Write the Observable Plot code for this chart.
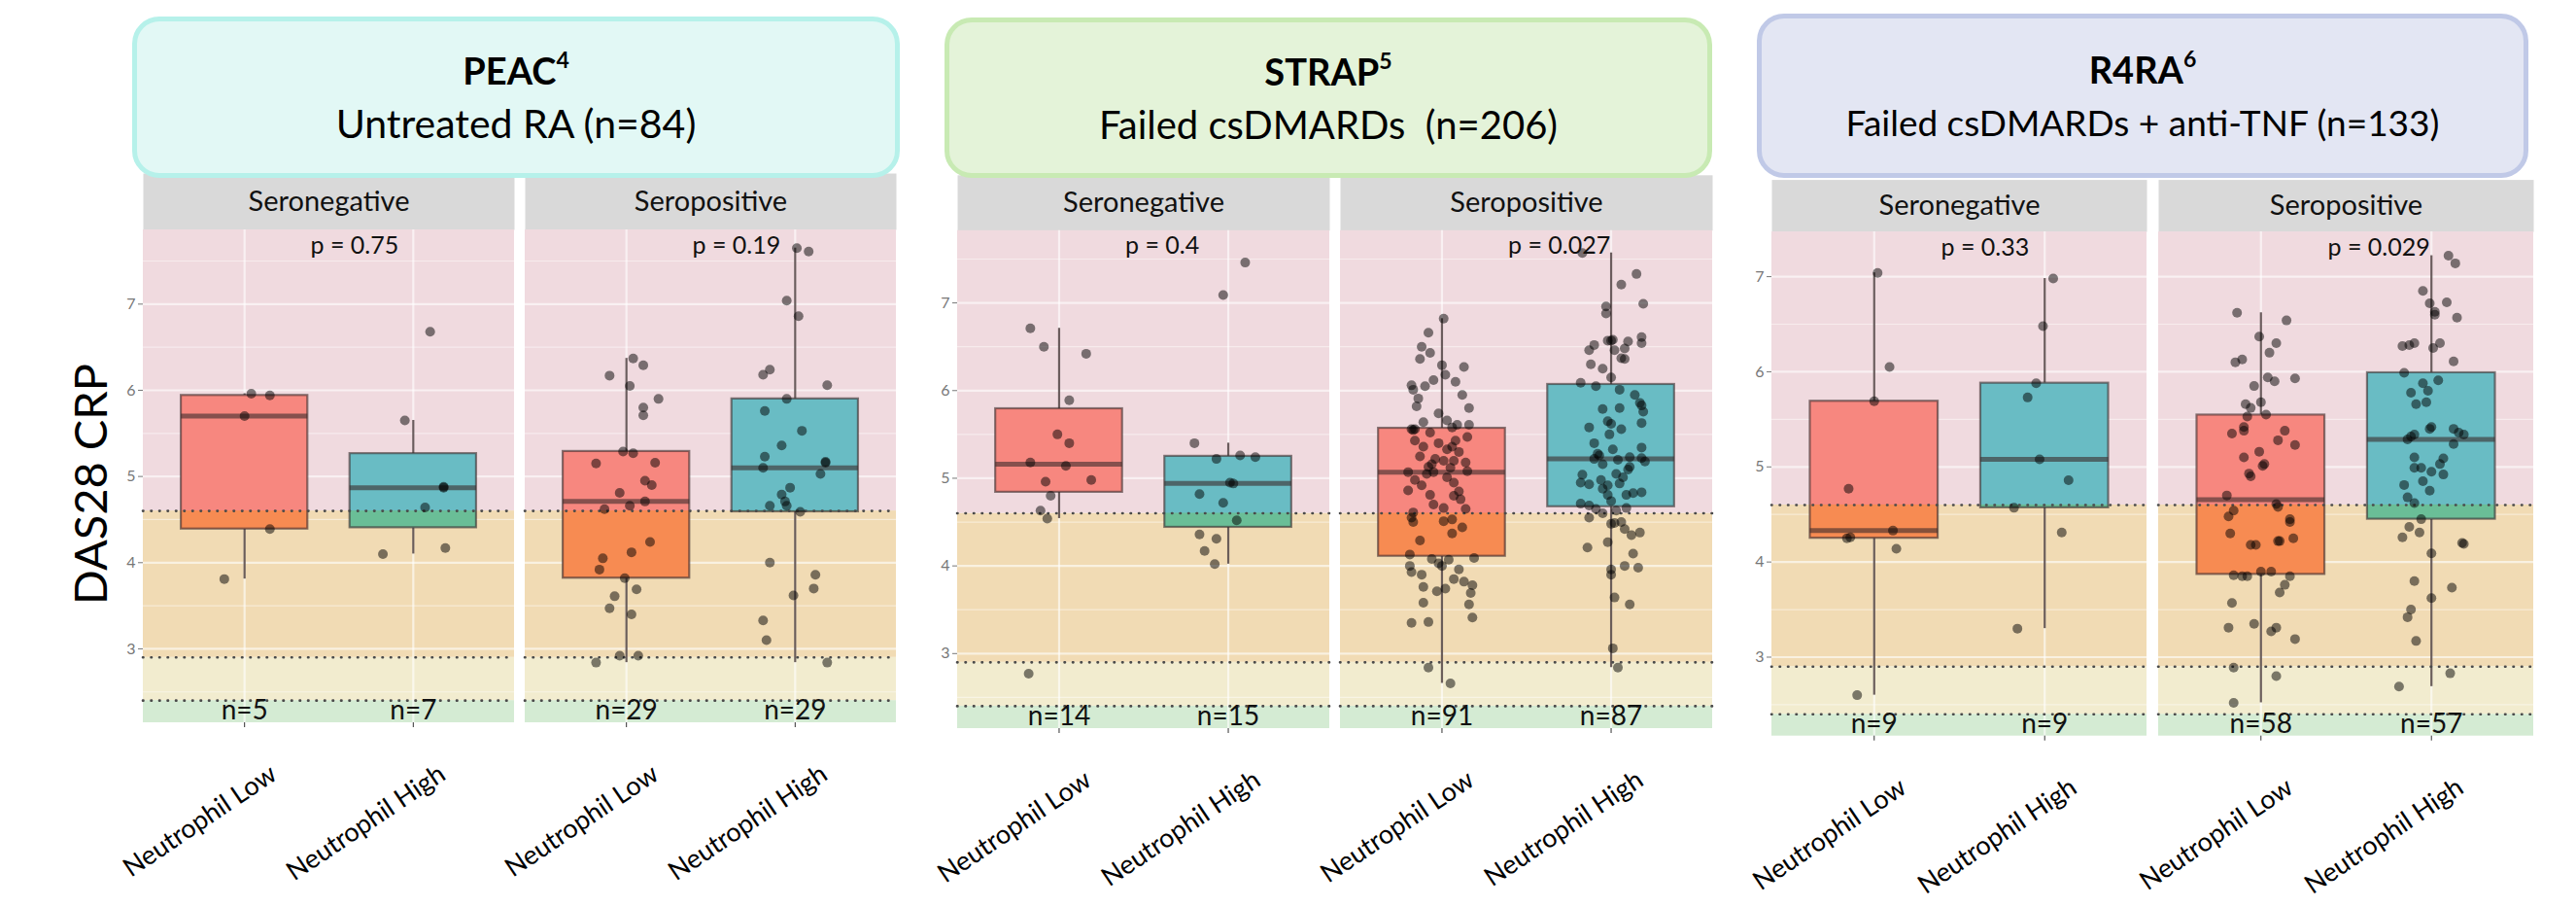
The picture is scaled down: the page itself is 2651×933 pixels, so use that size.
<!DOCTYPE html>
<html>
<head>
<meta charset="utf-8">
<script src="https://cdn.jsdelivr.net/npm/d3@7"></script>
<script src="https://cdn.jsdelivr.net/npm/@observablehq/plot@0.6"></script>
<style>
  body { margin: 0; background: #fff; }
  #page { position: relative; width: 2651px; height: 933px; overflow: hidden; background: #fff; font-family: Lato, "Noto Sans", sans-serif; }
  .hdr { position: absolute; box-sizing: border-box; border-radius: 28px; display: flex; flex-direction: column; align-items: center; justify-content: center; color: #000; z-index: 3; }
  .hdr .t { font-weight: 700; font-size: 38px; line-height: 54px; }
  .hdr .t sup { font-size: 23px; line-height: 0; position: relative; top: -3px; }
  .hdr .s { font-size: 41px; line-height: 56px; white-space: pre; }
  .ylab { position: absolute; left: 92px; top: 498px; transform: translate(-50%, -50%) rotate(-90deg); font-size: 47px; white-space: nowrap; color: #000; z-index: 2; }
  .chart { position: absolute; left: 0; top: 170px; z-index: 1; }
</style>
</head>
<body>
<div id="page">
  <div class="hdr" style="left:136px;top:17px;width:790px;height:166px;background:#E2F8F5;border:5px solid #B6F1EA;">
    <div class="t">PEAC<sup>4</sup></div><div class="s">Untreated RA (n=84)</div>
  </div>
  <div class="hdr" style="left:972px;top:18px;width:790px;height:165px;background:#E4F3D9;border:5px solid #C8EAB3;">
    <div class="t">STRAP<sup>5</sup></div><div class="s" style="font-size:40px">Failed csDMARDs  (n=206)</div>
  </div>
  <div class="hdr" style="left:1808px;top:14px;width:794px;height:169px;background:#E3E6F3;border:5px solid #C0C9E7;">
    <div class="t">R4RA<sup>6</sup></div><div class="s" style="font-size:37px">Failed csDMARDs + anti-TNF (n=133)</div>
  </div>
  <div class="ylab">DAS28 CRP</div>
</div>
<script>
// ---------- categories, facets, ticks ----------
const categories = ["Neutrophil Low", "Neutrophil High"];
const facets = ["Seronegative", "Seropositive"];
const cutoffs = [2.4, 2.9, 4.6];           // DAS28-CRP remission / low / high activity cut-offs
const yTicks = [3, 4, 5, 6, 7];
const yMinorTicks = [2.5, 3.5, 4.5, 5.5, 6.5, 7.5];

// ---------- p-values ----------
const peacP = ["p = 0.75", "p = 0.19"];
const strapP = ["p = 0.4", "p = 0.027"];
const r4raP = ["p = 0.33", "p = 0.029"];

// ---------- PEAC (DAS28 CRP values and horizontal jitter) ----------
const peacNegLow  = [5.96, 5.94, 5.70, 4.39, 3.81];
const peacNegLowJ = [0.04, 0.15, 0.00, 0.15, -0.12];
const peacNegHigh  = [6.68, 5.65, 4.88, 4.87, 4.64, 4.17, 4.10];
const peacNegHighJ = [0.10, -0.05, 0.18, 0.18, 0.07, 0.19, -0.18];
const peacPosLow  = [6.37, 6.29, 6.17, 6.05, 5.90, 5.80, 5.71, 5.27, 5.15, 5.16, 4.95, 4.90, 4.81, 4.71, 4.66, 4.62, 4.24, 4.12, 4.05, 3.92, 3.82, 3.69, 3.61, 3.47, 3.40, 2.92, 2.92, 2.84, 5.29];
const peacPosLowJ = [0.04, 0.10, -0.10, 0.02, 0.19, 0.10, 0.10, 0.04, -0.18, 0.17, 0.11, 0.15, -0.04, 0.11, 0.02, -0.13, 0.14, 0.03, -0.14, -0.16, -0.01, 0.06, -0.07, -0.10, 0.03, -0.04, 0.07, -0.18, -0.02];
const peacPosHigh  = [7.65, 7.61, 7.04, 6.86, 6.18, 6.24, 6.06, 5.90, 5.76, 5.53, 5.36, 5.23, 5.17, 5.16, 5.10, 5.03, 4.87, 4.79, 4.71, 4.66, 4.66, 4.59, 4.00, 3.86, 3.70, 3.62, 3.33, 3.10, 2.84];
const peacPosHighJ = [0.01, 0.08, -0.05, 0.02, -0.19, -0.15, 0.19, -0.05, -0.18, 0.04, -0.08, -0.18, 0.18, 0.18, -0.19, 0.15, -0.03, -0.08, -0.06, -0.05, -0.15, 0.03, -0.15, 0.12, 0.11, -0.01, -0.19, -0.17, 0.19];

// ---------- STRAP ----------
const strapNegLow  = [6.71, 6.50, 6.42, 5.89, 5.50, 5.40, 5.18, 5.14, 4.96, 4.98, 4.80, 4.63, 4.54, 2.77];
const strapNegLowJ = [-0.17, -0.09, 0.16, 0.06, -0.01, 0.06, -0.17, 0.04, -0.08, 0.19, -0.05, -0.11, -0.07, -0.18];
const strapNegHigh  = [7.46, 7.09, 5.40, 5.22, 5.26, 5.24, 4.95, 4.82, 4.72, 4.36, 4.31, 4.17, 4.02, 4.94, 4.52];
const strapNegHighJ = [0.10, -0.03, -0.20, -0.07, 0.07, 0.16, 0.01, -0.17, -0.03, -0.17, -0.07, -0.14, -0.08, 0.03, 0.05];
const strapPosLow = [
  6.82, 6.66, 6.50, 6.43, 6.36, 6.29, 6.27, 6.12, 6.05, 6.10,
  6.06, 6.01, 5.91, 5.82, 5.80, 5.64, 5.56, 5.56, 5.55, 5.58,
  5.61, 5.61, 5.43, 5.43, 5.36, 5.36, 5.22, 5.16, 5.20, 5.20,
  5.18, 5.13, 5.07, 5.05, 5.07, 5.08, 4.98, 5.01, 4.95, 4.86,
  4.81, 4.80, 4.76, 4.66, 4.65, 4.61, 4.55, 4.50, 4.51, 4.53,
  4.37, 4.29, 4.13, 4.08, 4.07, 4.09, 4.00, 3.93, 4.00, 3.85,
  3.82, 3.76, 3.74, 3.71, 3.78, 3.69, 3.58, 3.56, 3.41, 3.35,
  3.36, 2.84, 2.66,
  4.03, 3.96, 3.90, 5.66, 5.74, 5.95, 6.18, 4.70, 4.85, 4.92,
  4.44, 5.12, 5.25, 5.30, 5.40, 5.47, 5.52, 5.33];
const strapPosLowJ = [
  0.01, -0.08, -0.12, -0.07, -0.13, 0.00, 0.13, -0.05, -0.10, 0.08,
  -0.18, -0.17, -0.14, -0.15, 0.16, -0.11, -0.18, -0.16, -0.17, 0.06,
  0.09, 0.16, -0.16, 0.08, -0.11, 0.06, -0.04, -0.06, 0.01, 0.07,
  0.14, -0.08, -0.20, -0.09, -0.05, 0.15, -0.16, 0.03, 0.07, -0.20,
  -0.07, 0.07, 0.11, 0.01, 0.14, -0.17, -0.18, -0.17, 0.01, 0.06,
  0.06, -0.13, -0.19, -0.06, 0.04, 0.19, -0.19, -0.18, 0.00, 0.07,
  0.13, -0.11, 0.02, -0.03, 0.18, 0.17, -0.11, 0.16, 0.18, -0.18,
  -0.08, -0.08, 0.05,
  -0.02, 0.10, -0.12, 0.03, -0.02, 0.12, 0.02, -0.05, 0.10, -0.12,
  0.12, 0.05, -0.13, 0.10, -0.02, 0.15, -0.07, 0.03];
const strapPosHigh = [
  7.57, 7.33, 7.21, 6.99, 6.96, 6.88, 6.57, 6.57, 6.58, 6.52,
  6.56, 6.46, 6.61, 6.54, 6.46, 6.48, 6.37, 6.36, 6.25, 6.09,
  6.05, 6.01, 5.95, 5.86, 5.83, 5.76, 5.79, 5.80, 5.65, 5.62,
  5.58, 5.56, 5.63, 5.50, 5.33, 5.35, 5.28, 5.26, 5.22, 5.24,
  5.23, 5.19, 5.16, 5.13, 5.04, 5.01, 4.95, 4.93, 4.98, 4.92,
  4.94, 4.81, 4.83, 4.84, 4.81, 4.74, 4.71, 4.69, 4.65, 4.63,
  4.66, 4.55, 4.48, 4.50, 4.49, 4.35, 4.38, 4.21, 4.14, 4.00,
  3.98, 3.96, 3.90, 3.64, 3.56, 3.06, 2.84,
  6.15, 6.30, 4.60, 4.42, 4.27, 5.10, 4.88, 5.05, 5.21, 5.40];
const strapPosHighJ = [
  -0.17, 0.15, 0.06, 0.19, -0.03, -0.03, -0.02, 0.00, 0.01, -0.10,
  0.10, -0.13, 0.18, 0.18, 0.02, 0.08, 0.06, 0.08, -0.05, -0.18,
  -0.09, 0.05, 0.14, 0.17, 0.18, 0.19, -0.05, 0.05, -0.02, 0.00,
  -0.13, 0.06, 0.18, -0.01, 0.01, 0.18, -0.08, -0.07, -0.10, 0.11,
  0.18, 0.20, -0.05, 0.11, -0.17, 0.07, -0.18, -0.13, -0.06, -0.02,
  0.05, 0.09, 0.13, 0.18, -0.02, 0.00, -0.18, -0.13, -0.09, 0.03,
  0.09, -0.13, 0.00, 0.06, 0.02, 0.12, 0.17, -0.14, 0.13, 0.08,
  0.16, 0.00, 0.00, 0.02, 0.11, 0.01, 0.04,
  0.00, -0.12, -0.05, 0.08, -0.02, 0.10, -0.05, 0.03, 0.04, -0.10];

// ---------- R4RA ----------
const r4raNegLow  = [7.04, 6.05, 5.69, 4.77, 4.33, 4.25, 4.26, 4.14, 2.60];
const r4raNegLowJ = [0.02, 0.09, 0.00, -0.15, 0.11, -0.16, -0.14, 0.13, -0.10];
const r4raNegHigh  = [6.98, 6.48, 5.88, 5.73, 5.08, 4.86, 4.57, 4.31, 3.30];
const r4raNegHighJ = [0.05, -0.01, -0.05, -0.10, -0.03, 0.14, -0.18, 0.10, -0.16];
const r4raPosLow = [
  6.62, 6.54, 6.37, 6.30, 6.20, 6.10, 6.13, 5.94, 5.90, 5.93,
  5.85, 5.68, 5.66, 5.62, 5.53, 5.42, 5.35, 5.38, 5.38, 5.28,
  5.23, 5.16, 5.10, 5.03, 5.01, 4.90, 4.93, 4.70, 4.61, 4.58,
  4.54, 4.48, 4.45, 4.42, 4.30, 4.18, 4.18, 4.22, 4.22, 4.25,
  3.86, 3.85, 3.85, 3.90, 3.90, 3.85, 3.76, 3.68, 3.57, 3.31,
  3.35, 3.27, 3.31, 3.19, 2.89, 2.80, 2.52, 5.55];
const r4raPosLowJ = [
  -0.14, 0.15, -0.01, 0.09, 0.05, -0.15, -0.11, 0.04, 0.08, 0.20,
  -0.04, 0.00, -0.09, -0.06, -0.08, -0.10, -0.17, -0.10, 0.14, 0.10,
  0.20, -0.01, -0.10, 0.02, 0.01, -0.06, -0.07, -0.20, 0.09, 0.10,
  -0.16, -0.19, 0.17, 0.17, -0.18, -0.06, -0.03, 0.10, 0.11, 0.19,
  -0.16, -0.11, -0.08, 0.00, 0.06, 0.17, 0.14, 0.11, -0.17, -0.19,
  -0.04, 0.06, 0.09, 0.20, -0.16, 0.09, -0.16, 0.03];
const r4raPosHigh = [
  7.22, 7.14, 6.85, 6.72, 6.73, 6.63, 6.60, 6.57, 6.27, 6.28,
  6.30, 6.30, 6.25, 6.11, 5.99, 5.88, 5.91, 5.80, 5.78, 5.66,
  5.68, 5.42, 5.40, 5.40, 5.36, 5.34, 5.34, 5.32, 5.29, 5.24,
  5.10, 5.09, 4.99, 4.99, 4.95, 5.03, 4.92, 4.81, 4.85, 4.75,
  4.68, 4.62, 4.45, 4.37, 4.31, 4.26, 4.20, 4.19, 4.09, 3.80,
  3.73, 3.62, 3.50, 3.42, 3.17, 2.83, 2.69];
const r4raPosHighJ = [
  0.10, 0.14, -0.05, -0.01, 0.09, 0.02, 0.02, 0.15, -0.17, -0.13,
  -0.10, 0.05, 0.01, 0.13, -0.16, -0.05, 0.04, -0.02, -0.12, -0.09,
  -0.03, 0.00, -0.01, 0.13, 0.16, 0.19, -0.10, -0.12, -0.14, 0.13,
  -0.10, 0.07, -0.10, -0.06, 0.00, 0.05, 0.07, -0.16, -0.05, -0.01,
  -0.14, -0.10, -0.06, -0.13, -0.07, -0.17, 0.18, 0.19, 0.00, -0.10,
  0.12, 0.00, -0.12, -0.14, -0.09, 0.11, -0.19];

// ---------- styles ----------
const bandColors = ["#D4EBD3", "#F2ECCF", "#F1DBB4", "#F0DADF"];  // remission, low, moderate, high
const boxColors = [["#F7877F", "#F78B52"], ["#69BCC4", "#6ABE97"]]; // [above high cut-off, below]
const ink = "#3b2b2b";

function makeChart(cfg) {
  const pts = [], boxes = [];
  cfg.groups.forEach(([vals, jit], gi) => {
    const facet = facets[Math.floor(gi / 2)], ci = gi % 2, xc = ci + 1;
    vals.forEach((v, i) => pts.push({facet, x: xc + jit[i], y: v}));
    const s = vals.slice().sort(d3.ascending);
    const q1 = d3.quantileSorted(s, 0.25), med = d3.quantileSorted(s, 0.5), q3 = d3.quantileSorted(s, 0.75);
    const iqr = q3 - q1;
    const lo = d3.min(s.filter(v => v >= q1 - 1.5 * iqr));
    const hi = d3.max(s.filter(v => v <= q3 + 1.5 * iqr));
    boxes.push({facet, ci, x: xc, q1, med, q3, lo, hi, n: s.length});
  });
  const [y0, y1] = cfg.yDomain;
  const edges = [y0, ...cutoffs, y1];
  const bands = bandColors.map((c, i) => ({y1: edges[i], y2: edges[i + 1], fill: c}));
  const hw = 0.375;
  const highCut = cutoffs[2];
  const H = 763;
  const panelH = H - cfg.mt - cfg.mb;
  const bx1 = d => d.x - hw, bx2 = d => d.x + hw;
  return Plot.plot({
    width: 2651, height: H,
    marginLeft: cfg.ml, marginRight: cfg.mr, marginTop: cfg.mt, marginBottom: cfg.mb,
    style: {background: "transparent", overflow: "visible", maxWidth: "none", fontFamily: "Lato, 'Noto Sans', sans-serif"},
    fx: {domain: facets, paddingInner: 0.029, paddingOuter: 0, axis: null, label: null},
    x: {domain: [0.4, 2.6], label: null},
    y: {domain: [y0, y1], label: null},
    color: {type: "identity"},
    marks: [
      Plot.frame({fill: "#D9D9D9", stroke: "none", insetTop: -cfg.strip, insetBottom: panelH}),
      Plot.text(facets, {fx: d => d, text: d => d, frameAnchor: "top", lineAnchor: "middle", dy: -cfg.strip / 2, fontSize: 29, fill: "#111"}),
      Plot.rect(bands, {y1: "y1", y2: "y2", fill: "fill"}),
      Plot.ruleY(yMinorTicks.filter(t => t > y0 && t < y1), {stroke: "white", strokeOpacity: 0.45, strokeWidth: 1.2}),
      Plot.ruleY(yTicks, {stroke: "white", strokeOpacity: 0.6, strokeWidth: 2.2}),
      Plot.ruleX([1, 2], {stroke: "white", strokeOpacity: 0.6, strokeWidth: 2.2}),
      Plot.ruleX(boxes, {fx: "facet", x: "x", y1: "q3", y2: "hi", stroke: ink, strokeOpacity: 0.75, strokeWidth: 2.2}),
      Plot.ruleX(boxes, {fx: "facet", x: "x", y1: "lo", y2: "q1", stroke: ink, strokeOpacity: 0.75, strokeWidth: 2.2}),
      Plot.rect(boxes, {fx: "facet", x1: bx1, x2: bx2, y1: "q1", y2: "q3", fill: d => boxColors[d.ci][0]}),
      Plot.rect(boxes.filter(d => d.q1 < highCut), {fx: "facet", x1: bx1, x2: bx2, y1: "q1", y2: d => Math.min(d.q3, highCut), fill: d => boxColors[d.ci][1]}),
      Plot.rect(boxes, {fx: "facet", x1: bx1, x2: bx2, y1: "q1", y2: "q3", fill: "none", stroke: ink, strokeOpacity: 0.6, strokeWidth: 2.2}),
      Plot.ruleY(boxes, {fx: "facet", y: "med", x1: bx1, x2: bx2, stroke: ink, strokeOpacity: 0.6, strokeWidth: 5}),
      Plot.ruleY(cutoffs, {stroke: "#4a4a4a", strokeWidth: 2.6, strokeDasharray: "0.5,8", strokeLinecap: "round"}),
      Plot.dot(pts, {fx: "facet", x: "x", y: "y", r: 5, fill: "black", fillOpacity: 0.5}),
      Plot.text(cfg.p, {fx: (d, i) => facets[i], text: d => d, frameAnchor: "top", textAnchor: "start", lineAnchor: "middle", dx: -19, dy: 16, fontSize: 25, fill: "#111"}),
      Plot.text(boxes, {fx: "facet", x: "x", text: d => "n=" + d.n, frameAnchor: "bottom", lineAnchor: "middle", dy: -12, fontSize: 28, fill: "#111"}),
      Plot.axisY({ticks: yTicks, tickFormat: d3.format("d"), tickSize: 5, tickPadding: 3, fontSize: 16, color: "#777", label: null}),
      Plot.axisX({ticks: [1, 2], tickSize: 5, tickFormat: () => "", color: "#333", label: null}),
      Plot.text(boxes, {fx: "facet", x: "x", text: d => categories[d.ci], frameAnchor: "bottom", rotate: -34, textAnchor: "end", lineAnchor: "middle", dx: 30, dy: 50, fontSize: 27, fill: "#000"})
    ]
  });
}

const charts = [
  {groups: [[peacNegLow, peacNegLowJ], [peacNegHigh, peacNegHighJ], [peacPosLow, peacPosLowJ], [peacPosHigh, peacPosHighJ]],
   p: peacP, yDomain: [2.142, 7.861], ml: 147, mr: 1729, mt: 66, mb: 190, strip: 58},
  {groups: [[strapNegLow, strapNegLowJ], [strapNegHigh, strapNegHighJ], [strapPosLow, strapPosLowJ], [strapPosHigh, strapPosHighJ]],
   p: strapP, yDomain: [2.144, 7.824], ml: 984, mr: 889, mt: 66.8, mb: 184, strip: 57},
  {groups: [[r4raNegLow, r4raNegLowJ], [r4raNegHigh, r4raNegHighJ], [r4raPosLow, r4raPosLowJ], [r4raPosHigh, r4raPosHighJ]],
   p: r4raP, yDomain: [2.17, 7.47], ml: 1822.7, mr: 43.7, mt: 68.1, mb: 176.3, strip: 53.5}
];

const page = document.getElementById("page");
for (const cfg of charts) {
  const svg = makeChart(cfg);
  svg.classList.add("chart");
  svg.style.position = "absolute";
  svg.style.left = "0px";
  svg.style.top = "170px";
  page.appendChild(svg);
}
</script>
</body>
</html>
